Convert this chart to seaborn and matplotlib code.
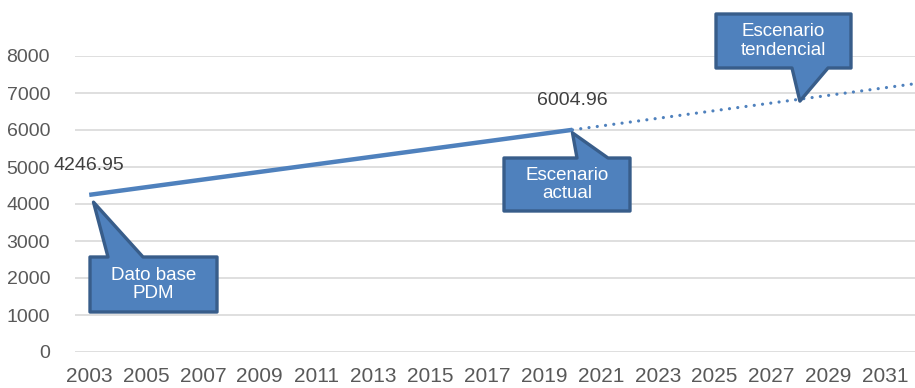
import matplotlib
matplotlib.use("Agg")
import matplotlib.pyplot as plt
import seaborn as sns
import pandas as pd
from matplotlib.patches import Polygon
from matplotlib.transforms import Affine2D

# ---- data ----
actual_years = [2003, 2020]
actual_values = [4246.95, 6004.96]
trend_years = [2020, 2032]
trend_values = [6004.96, 7246.0]
xtick_years = list(range(2003, 2032, 2))
ytick_values = list(range(0, 8001, 1000))

BLUE = "#4F81BD"
DARK = "#385D8A"
W, H = 915, 388

sns.set_theme(style="white")
plt.rcParams['font.family'] = ['Liberation Sans', 'DejaVu Sans']
NARROW = ['Liberation Sans Narrow', 'Liberation Sans', 'DejaVu Sans']

fig = plt.figure(figsize=(W / 100, H / 100), dpi=100)
ax = fig.add_axes([75 / W, 1 - 352 / H, (W - 75) / W, (352 - 56) / H])

df_a = pd.DataFrame({"year": actual_years, "value": actual_values})
df_t = pd.DataFrame({"year": trend_years, "value": trend_values})
sns.lineplot(data=df_a, x="year", y="value", ax=ax, color=BLUE, lw=3.2,
             solid_capstyle="butt")
sns.lineplot(data=df_t, x="year", y="value", ax=ax, color=BLUE, lw=2.3,
             linestyle=(0, (0.01, 2.6)), dash_capstyle="round")

ax.set_xlim(2002.5, 2032.05)
ax.set_ylim(0, 8000)
ax.set_xticks(xtick_years)
ax.set_xticklabels([str(y) for y in xtick_years], family=NARROW, fontsize=15,
                   color="#595959")
ax.set_yticks(ytick_values)
ax.set_yticklabels([str(v) for v in ytick_values], fontsize=14, color="#595959")
ax.tick_params(axis="x", length=0, pad=11)
ax.tick_params(axis="y", length=0, pad=18)
ax.set_xlabel("")
ax.set_ylabel("")
ax.yaxis.grid(True, color="#D9D9D9", lw=1.2)
ax.xaxis.grid(False)
for s in ax.spines.values():
    s.set_visible(False)

# data labels
for x, v in [(actual_years[0], actual_values[0]), (actual_years[1], actual_values[1])]:
    ax.annotate(f"{v:.2f}", (x, v), xytext=(0, 21), textcoords="offset points",
                ha="center", va="center", fontsize=14, color="#404040",
                annotation_clip=False)

# pixel-space transform (origin top-left of reference image)
pix = Affine2D().scale(1 / W, -1 / H).translate(0, 1) + fig.transFigure


def tip_px(x, y):
    dx, dy = ax.transData.transform((x, y))
    return dx, H - dy


def callout(tip, box, base, side, text):
    x0, y0, x1, y1 = box
    b1, b2 = base
    if side == "top":
        pts = [(x0, y0), (b1, y0), tip, (b2, y0), (x1, y0), (x1, y1), (x0, y1)]
    else:
        pts = [(x0, y0), (x1, y0), (x1, y1), (b2, y1), tip, (b1, y1), (x0, y1)]
    poly = Polygon(pts, closed=True, transform=pix, facecolor=BLUE,
                   edgecolor=DARK, lw=2.4, joinstyle="round", clip_on=False)
    fig.add_artist(poly)
    fig.text(((x0 + x1) / 2) / W, 1 - ((y0 + y1) / 2) / H, text,
             ha="center", va="center", color="white", fontsize=13.5,
             family=NARROW, linespacing=1.15)


t1 = tip_px(2003.15, 4050)
callout(t1, (90, 257, 217, 312), (108, 143), "top", "Dato base\nPDM")
t2 = tip_px(2020.0, 5950)
callout((t2[0], t2[1] + 1), (504, 158, 630, 211), (577, 608), "top", "Escenario\nactual")
t3 = tip_px(2028.0, 6780)
callout(t3, (716, 14, 851, 68), (792, 828), "bottom", "Escenario\ntendencial")

fig.savefig("out.png", dpi=100)
